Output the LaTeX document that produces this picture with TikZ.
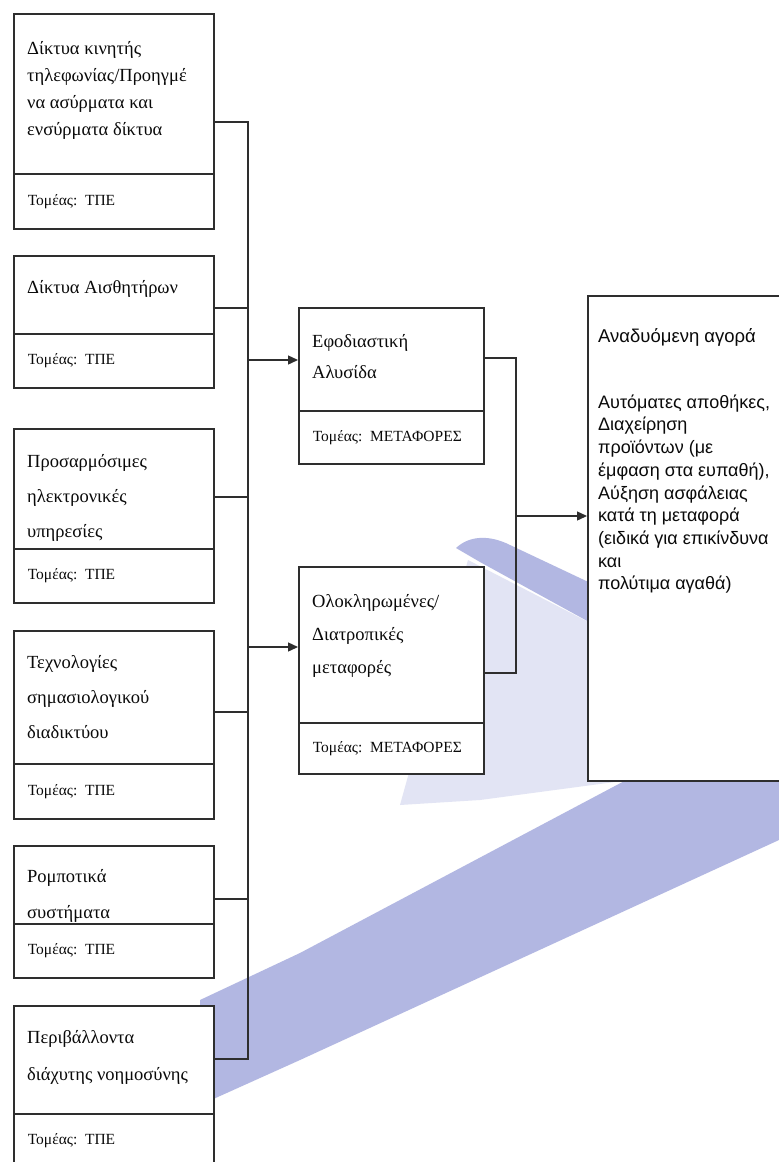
\documentclass[tikz,border=0pt]{standalone}
\usepackage{fontspec}
\newfontfamily\grserif{Liberation Serif}
\newfontfamily\grsans{Liberation Sans}
\usetikzlibrary{arrows.meta}
\definecolor{ln}{HTML}{2E2E2E}
\definecolor{tx}{HTML}{0A0A0A}
\definecolor{sw}{HTML}{B2B7E2}
\definecolor{swl}{HTML}{E2E4F4}
\begin{document}
\begin{tikzpicture}[x=1pt,y=-1pt,
  cell/.style={draw=ln, line width=1.6pt, fill=white, rectangle, inner sep=0pt, anchor=north west, minimum width=200pt},
  mcell/.style={cell, minimum width=185pt},
  seccell/.style={cell, align=left, text width=172pt, inner xsep=14pt, text=tx, font=\grserif\fontsize{15.5}{18}\selectfont},
  mseccell/.style={seccell, minimum width=185pt, text width=157pt},
  ttl/.style={anchor=north west, inner sep=0pt, align=left, text=tx, font=\grserif\fontsize{18.5}{36}\selectfont},
  rtx/.style={anchor=north west, inner sep=0pt, align=left, text=tx, font=\grsans\fontsize{18}{22.7}\selectfont},
  conn/.style={draw=ln, line width=1.4pt},
  arr/.style={conn, -{Triangle[length=10pt,width=9pt]}}]
\useasboundingbox (0,0) rectangle (779,1162);
\fill[white] (0,0) rectangle (779,1162);
% background swooshes
\fill[swl] (468,560) -- (600,628) -- (779,700) -- (779,760) -- (480,800) -- (400,805) -- cycle;
\fill[sw] (456,548) .. controls (470,535) and (490,535) .. (510,545) -- (779,672) -- (779,712) -- (600,628) -- (480,562) -- cycle;
\fill[sw] (200,1000) -- (300,953) -- (779,699) -- (779,840) -- (300,1060) -- (200,1105) -- cycle;
% left boxes
\node[cell, minimum height=160pt] (t1) at (13,13) {};
\node[seccell, minimum height=55pt] (s1) at (13,173) {Τομέας: ΤΠΕ};
\node[cell, minimum height=78pt] (t2) at (13,255) {};
\node[seccell, minimum height=54pt] (s2) at (13,333) {Τομέας: ΤΠΕ};
\node[cell, minimum height=120pt] (t3) at (13,428) {};
\node[seccell, minimum height=54pt] (s3) at (13,548) {Τομέας: ΤΠΕ};
\node[cell, minimum height=133pt] (t4) at (13,630) {};
\node[seccell, minimum height=55pt] (s4) at (13,763) {Τομέας: ΤΠΕ};
\node[cell, minimum height=78pt] (t5) at (13,845) {};
\node[seccell, minimum height=54pt] (s5) at (13,923) {Τομέας: ΤΠΕ};
\node[cell, minimum height=108pt] (t6) at (13,1005) {};
\node[seccell, minimum height=54pt] (s6) at (13,1113) {Τομέας: ΤΠΕ};
% middle boxes
\node[mcell, minimum height=103pt] (m1) at (298,307) {};
\node[mseccell, minimum height=53pt] (ms1) at (298,410) {Τομέας: ΜΕΤΑΦΟΡΕΣ};
\node[mcell, minimum height=156pt] (m2) at (298,566) {};
\node[mseccell, minimum height=51pt] (ms2) at (298,722) {Τομέας: ΜΕΤΑΦΟΡΕΣ};
% right box
\node[cell, minimum height=485pt] (rb) at (587,295) {};
% titles
\node[ttl, font=\grserif\fontsize{18.5}{27}\selectfont] (x1) at (27,39) {\rule{0pt}{15pt}Δίκτυα κινητής\\τηλεφωνίας/Προηγμέ\\να ασύρματα και\\ενσύρματα δίκτυα};
\node[ttl] (x2) at (27,278) {\rule{0pt}{15pt}Δίκτυα Αισθητήρων};
\node[ttl, font=\grserif\fontsize{18.5}{35}\selectfont] (x3) at (27,452) {\rule{0pt}{15pt}Προσαρμόσιμες\\ηλεκτρονικές\\υπηρεσίες};
\node[ttl, font=\grserif\fontsize{18.5}{35}\selectfont] (x4) at (27,653) {\rule{0pt}{15pt}Τεχνολογίες\\σημασιολογικού\\διαδικτύου};
\node[ttl] (x5) at (27,867) {\rule{0pt}{15pt}Ρομποτικά\\συστήματα};
\node[ttl, font=\grserif\fontsize{18.5}{37}\selectfont] (x6) at (27,1028) {\rule{0pt}{15pt}Περιβάλλοντα\\διάχυτης νοημοσύνης};
\node[ttl, font=\grserif\fontsize{18.5}{31}\selectfont] (y1) at (312,332) {\rule{0pt}{15pt}Εφοδιαστική\\Αλυσίδα};
\node[ttl, font=\grserif\fontsize{18.5}{33}\selectfont] (y2) at (312,592) {\rule{0pt}{15pt}Ολοκληρωμένες/\\Διατροπικές\\μεταφορές};
\node[rtx, font=\grsans\fontsize{18.5}{22.7}\selectfont] (z1) at (598,327) {\rule{0pt}{15pt}Αναδυόμενη αγορά};
\node[rtx] (z2) at (598,393) {\rule{0pt}{15pt}Αυτόματες αποθήκες,\\Διαχείρηση\\προϊόντων (με\\έμφαση στα ευπαθή),\\Αύξηση ασφάλειας\\κατά τη μεταφορά\\(ειδικά για επικίνδυνα\\και\\πολύτιμα αγαθά)};
% connectors
\coordinate (j1) at (248,122);
\coordinate (j2) at (248,308);
\coordinate (j3) at (248,497);
\coordinate (j4) at (248,712);
\coordinate (j5) at (248,899);
\coordinate (j6) at (248,1059);
\coordinate (a1) at (248,360);
\coordinate (a2) at (248,647);
\draw[conn] (j1 -| t1.east) -- (j1) -- (j6) -- (j6 -| t6.east);
\draw[conn] (j2 -| t2.east) -- (j2);
\draw[conn] (j3 -| t3.east) -- (j3);
\draw[conn] (j4 -| t4.east) -- (j4);
\draw[conn] (j5 -| t5.east) -- (j5);
\draw[arr] (a1) -- (a1 -| m1.west);
\draw[arr] (a2) -- (a2 -| m2.west);
\coordinate (r1) at (516,358);
\coordinate (r2) at (516,673);
\coordinate (r3) at (516,516);
\draw[conn] (r1 -| m1.east) -- (r1) -- (r2) -- (r2 -| m2.east);
\draw[arr] (r3) -- (r3 -| rb.west);
\end{tikzpicture}
\end{document}
